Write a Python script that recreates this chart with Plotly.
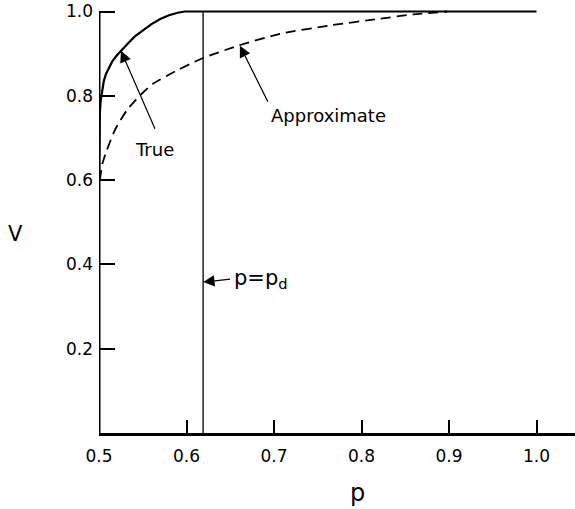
import plotly.graph_objects as go

# ---- data ----
true_p = [0.5, 0.5003, 0.5006, 0.501, 0.502, 0.5035, 0.5055, 0.508, 0.511, 0.515, 0.52, 0.526,
          0.533, 0.541, 0.55, 0.56, 0.57, 0.58, 0.59, 0.598, 0.605, 1.0]
true_v = [0.60, 0.68, 0.72, 0.76, 0.79, 0.815, 0.835, 0.852, 0.866, 0.881, 0.895, 0.909,
          0.924, 0.941, 0.955, 0.970, 0.982, 0.991, 0.997, 1.0, 1.0, 1.0]

approx_p = [0.501, 0.504, 0.5088, 0.518, 0.5316, 0.545, 0.562, 0.589, 0.617, 0.659, 0.707, 0.764, 0.821, 0.859, 0.898]
approx_v = [0.600, 0.640, 0.670, 0.718, 0.765, 0.797, 0.829, 0.860, 0.888, 0.919, 0.947, 0.967, 0.983, 0.993, 1.0]

p_d = 0.619

x_ticks = [0.5, 0.6, 0.7, 0.8, 0.9, 1.0]
x_tick_labels = ["0.5", "0.6", "0.7", "0.8", "0.9", "1.0"]
y_ticks = [0.2, 0.4, 0.6, 0.8, 1.0]
y_tick_labels = ["0.2", "0.4", "0.6", "0.8", "1.0"]

FONT = "DejaVu Sans"
fig = go.Figure()

# left spine (V from 0 to 1 at p = 0.5)
fig.add_trace(go.Scatter(x=[0.5, 0.5], y=[0, 1.0], mode="lines",
                         line=dict(color="black", width=3), hoverinfo="skip", showlegend=False))
# p = p_d vertical line
fig.add_trace(go.Scatter(x=[p_d, p_d], y=[0, 1.0], mode="lines",
                         line=dict(color="black", width=1.3), hoverinfo="skip", showlegend=False))
# true curve
fig.add_trace(go.Scatter(x=true_p, y=true_v, mode="lines", name="True",
                         line=dict(color="black", width=2.2), showlegend=False))
# approximate curve
fig.add_trace(go.Scatter(x=approx_p, y=approx_v, mode="lines", name="Approximate",
                         line=dict(color="black", width=1.8, dash="10px,6px", shape="spline", smoothing=0.6),
                         showlegend=False))

ann_font = dict(family=FONT, size=18, color="black")
arrow = dict(showarrow=True, arrowhead=2, arrowsize=1.9, arrowwidth=1.2, arrowcolor="black")
annotations = [
    dict(x=0.5251, y=0.907, xref="x", yref="y", ax=34, ay=78, text="True",
         xanchor="center", yanchor="top", borderpad=9, font=ann_font, **arrow),
    dict(x=0.661, y=0.919, xref="x", yref="y", ax=28, ay=56, text="Approximate",
         xanchor="left", yanchor="top", borderpad=2, font=ann_font, **arrow),
    dict(x=p_d, y=0.358, xref="x", yref="y", ax=27, ay=-3, text="p=p<sub>d</sub>",
         xanchor="left", yanchor="middle", borderpad=3,
         font=dict(family=FONT, size=21, color="black"), **arrow),
    # axis labels (upright, placed as in the reference)
    dict(x=-0.195, y=0.473, xref="paper", yref="y", text="V", showarrow=False,
         font=dict(family=FONT, size=21, color="black")),
    dict(x=0.795, y=-0.141, xref="x", yref="paper", text="p", showarrow=False,
         yanchor="middle", font=dict(family=FONT, size=24, color="black")),
]

fig.update_layout(
    width=575, height=509,
    margin=dict(l=99, r=0, t=7, b=76),
    paper_bgcolor="white", plot_bgcolor="white",
    annotations=annotations,
    font=dict(family=FONT, color="black"),
    xaxis=dict(range=[0.5, 1.044], tickvals=x_ticks, ticktext=x_tick_labels,
               ticks="inside", ticklen=13, tickwidth=2, tickcolor="black",
               showline=True, linecolor="black", linewidth=3, showgrid=False, zeroline=False,
               tickfont=dict(family=FONT, size=17, color="black"), ticklabelstandoff=6),
    yaxis=dict(range=[0, 1.0107], tickvals=y_ticks, ticktext=y_tick_labels,
               ticks="inside", ticklen=16, tickwidth=2, tickcolor="black",
               showline=False, showgrid=False, zeroline=False,
               tickfont=dict(family=FONT, size=17, color="black"), ticklabelstandoff=5),
)

fig.write_html("out.html")
